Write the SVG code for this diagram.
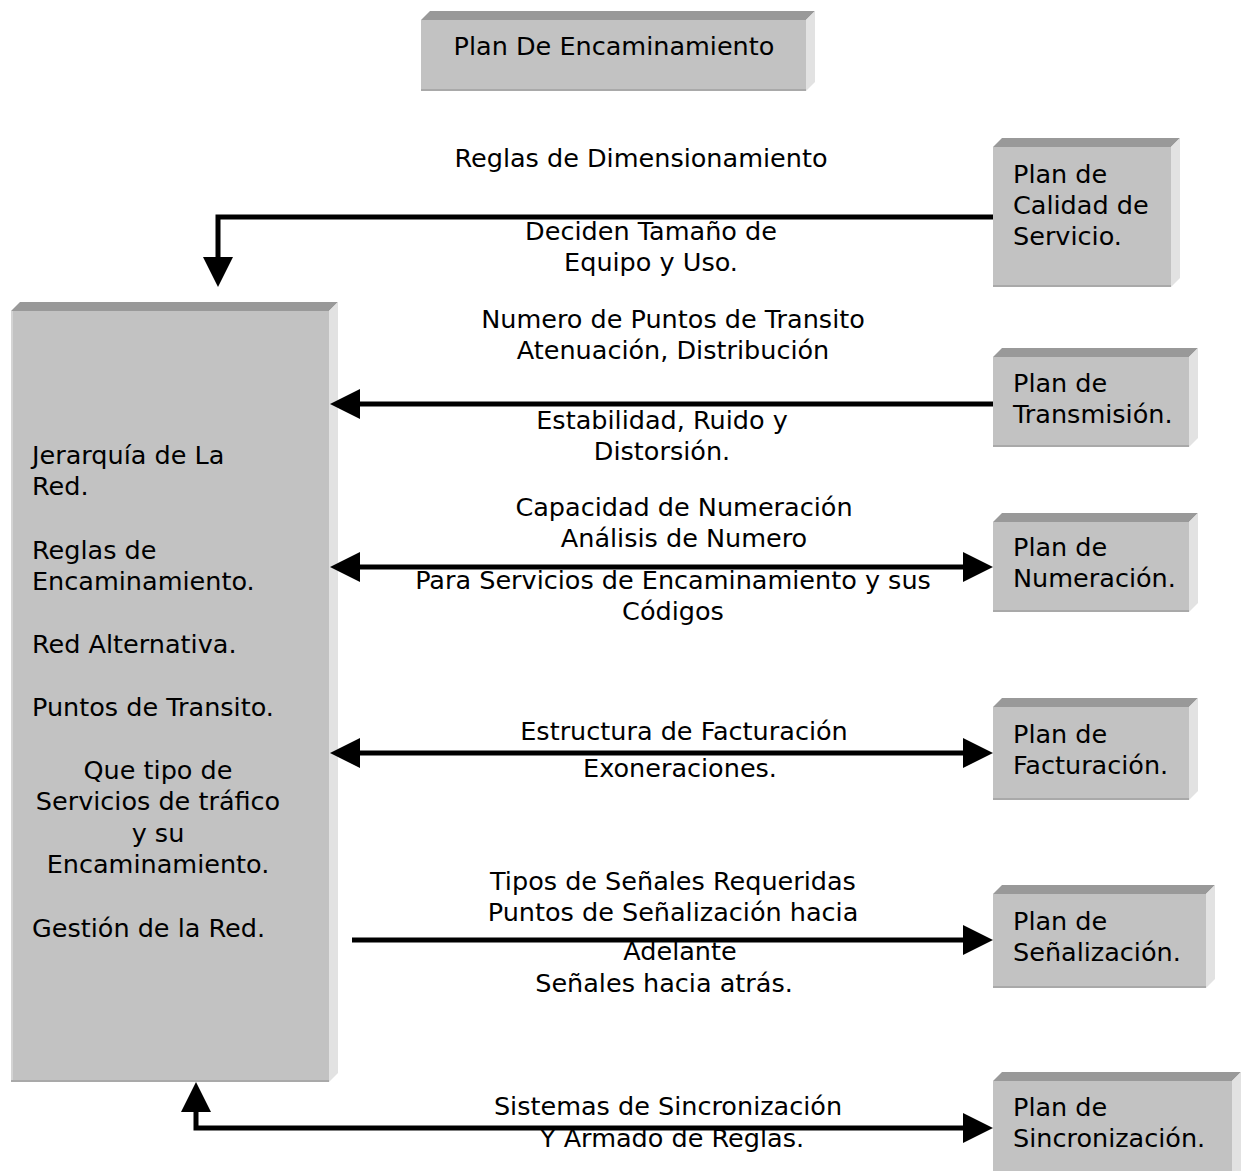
<svg xmlns="http://www.w3.org/2000/svg" width="1241" height="1171" viewBox="0 0 1241 1171">
  <style>
    .front { fill: #c2c2c2; }
    .top { fill: #999999; }
    .side { fill: #e2e2e2; }
    .edge { stroke: #a9a9a9; stroke-width: 2; fill: none; }
    .lit { stroke: #d4d4d4; stroke-width: 2; fill: none; }
    text { font-family: "DejaVu Sans", Verdana, sans-serif; font-size: 25.5px; fill: #000; }
    .c { text-anchor: middle; }
    .wire { fill: none; stroke: #000; stroke-width: 5; }
  </style>
  <defs>
    <marker id="head" markerUnits="userSpaceOnUse" viewBox="0 0 30 30" markerWidth="30" markerHeight="30" refX="1" refY="15" orient="auto-start-reverse">
      <path d="M0,0 L30,15 L0,30 Z" fill="#000"/>
    </marker>
  </defs>

  <rect width="1241" height="1171" fill="#fff"/>

  <!-- title block -->
  <g id="plan-encaminamiento">
    <polygon class="top" points="421,20 430,11 815,11 806,20"/>
    <polygon class="side" points="806,20 815,11 815,82 806,91"/>
    <rect class="front" x="421" y="20" width="385" height="71"/>
    <line class="edge" x1="421" y1="90" x2="806" y2="90"/>
    <text class="c" x="614" y="55">Plan De Encaminamiento</text>
  </g>

  <!-- routing plan contents -->
  <g id="encaminamiento">
    <polygon class="top" points="11,311 20,302 338,302 329,311"/>
    <polygon class="side" points="329,311 338,302 338,1073 329,1082"/>
    <rect class="front" x="11" y="311" width="318" height="771"/>
    <line class="lit" x1="12" y1="311" x2="12" y2="1082"/>
    <line class="edge" x1="11" y1="1081" x2="329" y2="1081"/>
    <text x="32" y="464">Jerarquía de La</text>
    <text x="32" y="495">Red.</text>
    <text x="32" y="559">Reglas de</text>
    <text x="32" y="590">Encaminamiento.</text>
    <text x="32" y="653">Red Alternativa.</text>
    <text x="32" y="716">Puntos de Transito.</text>
    <text class="c" x="158" y="779">Que tipo de</text>
    <text class="c" x="158" y="810">Servicios de tráfico</text>
    <text class="c" x="158" y="842">y su</text>
    <text class="c" x="158" y="873">Encaminamiento.</text>
    <text x="32" y="937">Gestión de la Red.</text>
  </g>

  <g id="plan-calidad">
    <polygon class="top" points="993,147 1002,138 1180,138 1171,147"/>
    <polygon class="side" points="1171,147 1180,138 1180,278 1171,287"/>
    <rect class="front" x="993" y="147" width="178" height="140"/>
    <line class="edge" x1="993" y1="286" x2="1171" y2="286"/>
    <text x="1013" y="183">Plan de</text>
    <text x="1013" y="214">Calidad de</text>
    <text x="1013" y="245">Servicio.</text>
  </g>

  <g id="plan-transmision">
    <polygon class="top" points="993,357 1002,348 1198,348 1189,357"/>
    <polygon class="side" points="1189,357 1198,348 1198,438 1189,447"/>
    <rect class="front" x="993" y="357" width="196" height="90"/>
    <line class="edge" x1="993" y1="446" x2="1189" y2="446"/>
    <text x="1013" y="392">Plan de</text>
    <text x="1013" y="423">Transmisión.</text>
  </g>

  <g id="plan-numeracion">
    <polygon class="top" points="993,522 1002,513 1198,513 1189,522"/>
    <polygon class="side" points="1189,522 1198,513 1198,603 1189,612"/>
    <rect class="front" x="993" y="522" width="196" height="90"/>
    <line class="edge" x1="993" y1="611" x2="1189" y2="611"/>
    <text x="1013" y="556">Plan de</text>
    <text x="1013" y="587">Numeración.</text>
  </g>

  <g id="plan-facturacion">
    <polygon class="top" points="993,707 1002,698 1198,698 1189,707"/>
    <polygon class="side" points="1189,707 1198,698 1198,791 1189,800"/>
    <rect class="front" x="993" y="707" width="196" height="93"/>
    <line class="edge" x1="993" y1="799" x2="1189" y2="799"/>
    <text x="1013" y="743">Plan de</text>
    <text x="1013" y="774">Facturación.</text>
  </g>

  <g id="plan-senalizacion">
    <polygon class="top" points="993,894 1002,885 1215,885 1206,894"/>
    <polygon class="side" points="1206,894 1215,885 1215,979 1206,988"/>
    <rect class="front" x="993" y="894" width="213" height="94"/>
    <line class="edge" x1="993" y1="987" x2="1206" y2="987"/>
    <text x="1013" y="930">Plan de</text>
    <text x="1013" y="961">Señalización.</text>
  </g>

  <g id="plan-sincronizacion">
    <polygon class="top" points="993,1081 1002,1072 1241,1072 1232,1081"/>
    <polygon class="side" points="1232,1081 1241,1072 1241,1171 1232,1171"/>
    <rect class="front" x="993" y="1081" width="239" height="90"/>
    <text x="1013" y="1116">Plan de</text>
    <text x="1013" y="1147">Sincronización.</text>
  </g>

  <!-- connectors -->
  <g id="connectors">
    <path class="wire" d="M993,217 H218 V258" marker-end="url(#head)"/>
    <path class="wire" d="M993,404 H359" marker-end="url(#head)"/>
    <path class="wire" d="M359,567 H964" marker-start="url(#head)" marker-end="url(#head)"/>
    <path class="wire" d="M359,753 H964" marker-start="url(#head)" marker-end="url(#head)"/>
    <path class="wire" d="M352,940 H964" marker-end="url(#head)"/>
    <path class="wire" d="M964,1128 H196 V1111" marker-start="url(#head)" marker-end="url(#head)"/>
  </g>

  <!-- connector labels -->
  <g id="labels">
    <text class="c" x="641" y="167">Reglas de Dimensionamiento</text>
    <text class="c" x="651" y="240">Deciden Tamaño de</text>
    <text class="c" x="651" y="271">Equipo y Uso.</text>
    <text class="c" x="673" y="328">Numero de Puntos de Transito</text>
    <text class="c" x="673" y="359">Atenuación, Distribución</text>
    <text class="c" x="662" y="429">Estabilidad, Ruido y</text>
    <text class="c" x="662" y="460">Distorsión.</text>
    <text class="c" x="684" y="516">Capacidad de Numeración</text>
    <text class="c" x="684" y="547">Análisis de Numero</text>
    <text class="c" x="673" y="589">Para Servicios de Encaminamiento y sus</text>
    <text class="c" x="673" y="620">Códigos</text>
    <text class="c" x="684" y="740">Estructura de Facturación</text>
    <text class="c" x="680" y="777">Exoneraciones.</text>
    <text class="c" x="673" y="890">Tipos de Señales Requeridas</text>
    <text class="c" x="673" y="921">Puntos de Señalización hacia</text>
    <text class="c" x="680" y="960">Adelante</text>
    <text class="c" x="664" y="992">Señales hacia atrás.</text>
    <text class="c" x="668" y="1115">Sistemas de Sincronización</text>
    <text class="c" x="672" y="1147">Y Armado de Reglas.</text>
  </g>
</svg>
